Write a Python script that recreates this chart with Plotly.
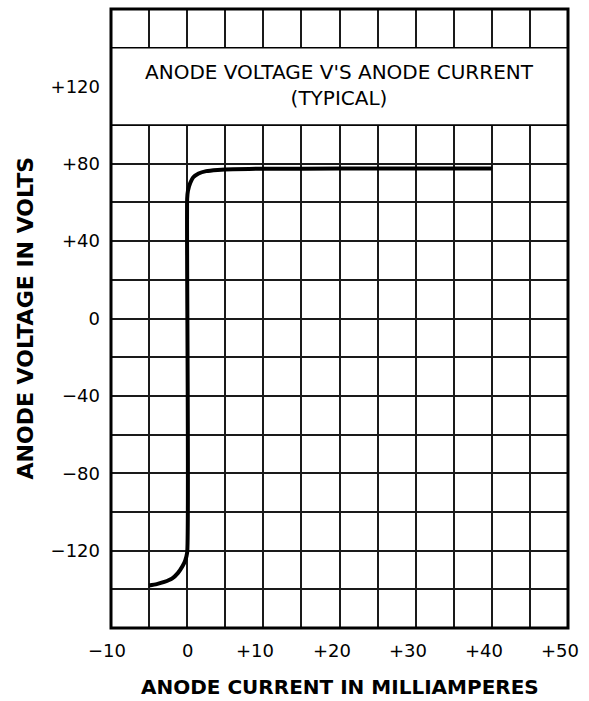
import plotly.graph_objects as go

# Data
current_ma = [-5, -4, -3, -2, -1.2, -0.6, -0.25, 0, 0, 0.1, 0.4, 0.8, 1.5, 2.5, 4, 6, 10, 20, 30, 40]
voltage_v = [-138, -137.3, -136.2, -134.5, -131.5, -128, -125, -121, 62, 66, 70, 73, 75, 76.2, 76.8, 77.2, 77.4, 77.5, 77.6, 77.6]

x_tickvals = [-10, 0, 10, 20, 30, 40, 50]
x_ticktext = ["\u221210", "0", "+10", "+20", "+30", "+40", "+50"]
y_tickvals = [-120, -80, -40, 0, 40, 80, 120]
y_ticktext = ["\u2212120", "\u221280", "\u221240", "0", "+40", "+80", "+120"]

title_lines = ["ANODE VOLTAGE V'S ANODE CURRENT", "(TYPICAL)"]
x_title = "ANODE CURRENT IN MILLIAMPERES"
y_title = "ANODE VOLTAGE IN VOLTS"

FONT = "DejaVu Sans"
GRID = "#1a1a1a"

fig = go.Figure()
fig.add_trace(go.Scatter(
    x=current_ma, y=voltage_v, mode="lines",
    line=dict(color="black", width=4, shape="spline", smoothing=0.6),
    hoverinfo="skip", showlegend=False,
))

axis_common = dict(
    showline=False, zeroline=False, showgrid=True,
    gridcolor=GRID, gridwidth=1.5, ticks="",
    tickfont=dict(family=FONT, size=18, color="black"),
    fixedrange=True, automargin=False,
)
fig.update_xaxes(
    range=[-10, 50], tickmode="array", tickvals=x_tickvals, ticktext=x_ticktext,
    showticklabels=False,
    minor=dict(dtick=5, tick0=0, showgrid=True, gridcolor=GRID, gridwidth=1.5),
    **axis_common,
)
fig.update_yaxes(
    range=[-160, 160], tickmode="array", tickvals=y_tickvals, ticktext=y_ticktext,
    minor=dict(dtick=20, tick0=0, showgrid=True, gridcolor=GRID, gridwidth=1.5),
    ticklabelstandoff=10, **axis_common,
)

# x tick labels: numeric part centred on the grid line, sign hanging to the left
for val, txt in zip(x_tickvals, x_ticktext):
    shift = -8 if txt.startswith("+") else (-4 if txt.startswith("\u2212") else 0)
    fig.add_annotation(x=val, y=0, xref="x", yref="paper", text=txt, showarrow=False,
                       xanchor="center", yanchor="top", yshift=-10, xshift=shift,
                       font=dict(family=FONT, size=18, color="black"))

# Title box covering the grid
fig.add_shape(type="rect", xref="x", yref="y", x0=-10, x1=50, y0=100, y1=140,
              fillcolor="white", line=dict(color="black", width=1.6), layer="above")
# Plot border
fig.add_shape(type="rect", xref="paper", yref="paper", x0=0, x1=1, y0=0, y1=1,
              line=dict(color="black", width=3), layer="above")

fig.add_annotation(x=20, y=120, xref="x", yref="y",
                   text="<br>".join(title_lines), showarrow=False,
                   font=dict(family=FONT, size=20, color="black"),
                   align="center", yshift=1)

fig.add_annotation(x=0.5, y=0, xref="paper", yref="paper", yshift=-59,
                   text=x_title, showarrow=False, xanchor="center", yanchor="middle",
                   font=dict(family=FONT, size=20, color="black", weight="bold"))
fig.add_annotation(x=0, y=0.5, xref="paper", yref="paper", xshift=-86,
                   text=y_title, showarrow=False, textangle=-90,
                   xanchor="center", yanchor="middle",
                   font=dict(family=FONT, size=22, color="black", weight="bold"))

fig.update_layout(
    width=580, height=701, autosize=False,
    margin=dict(l=111, r=12, t=9, b=73),
    paper_bgcolor="white", plot_bgcolor="white",
    showlegend=False,
)

# Remove the default page margin so the figure sits at the window's corner
post = (
    "document.documentElement.style.overflow='hidden';"
    "document.body.style.margin='0';"
    "document.body.style.overflow='hidden';"
)
fig.write_html(
    "out.html",
    config={"responsive": False, "displayModeBar": False},
    post_script=post,
)
